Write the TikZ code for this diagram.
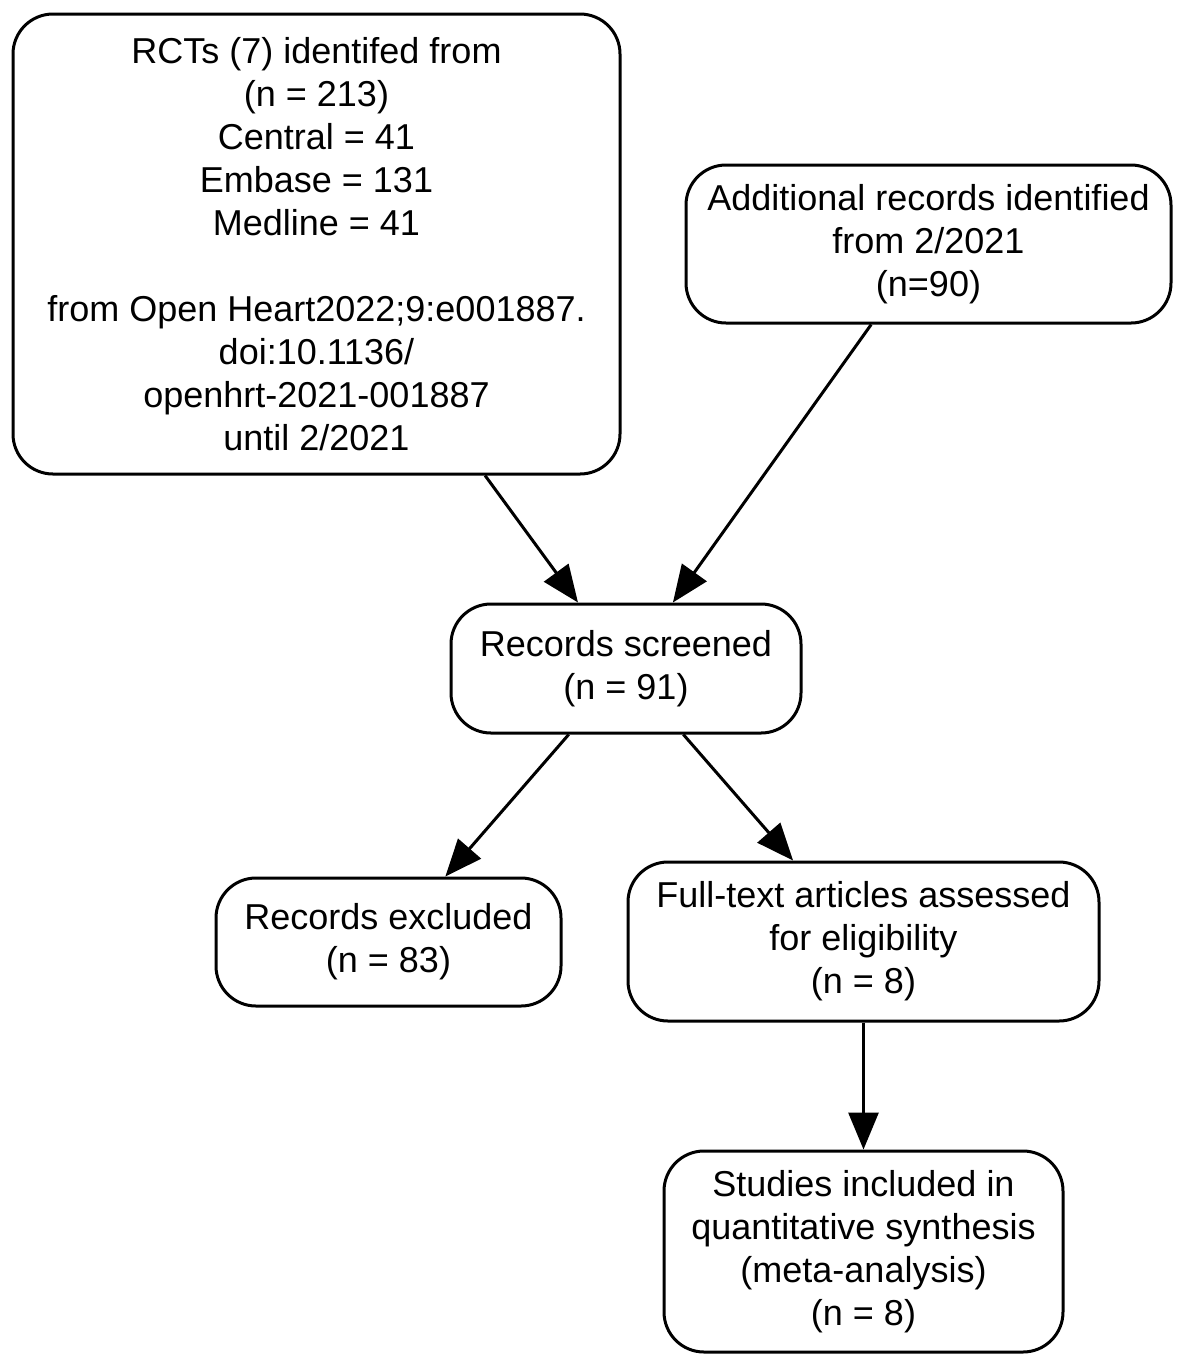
\documentclass[tikz,border=0pt]{standalone}
\usepackage{fontspec}
\setmainfont{Liberation Sans}
\usepackage{tikz}
\usetikzlibrary{arrows.meta}

\begin{document}
\begin{tikzpicture}[x=0.5pt,y=-0.5pt,box/.style={draw=black,line width=1.5pt,rounded corners=20pt,fill=white,align=center,inner sep=0pt,font=\fontsize{18}{21.5}\selectfont},arr/.style={-{Triangle[length=18.5pt,width=15pt]},line width=1.5pt,draw=black}]
\useasboundingbox (0,0) rectangle (1200,1367);
\node[box,minimum width=303.5pt,minimum height=230pt] (rct) at (316.5,244) {RCTs (7) identifed from\\(n = 213)\\Central = 41\\Embase = 131\\Medline = 41\\[21.5pt]from Open Heart2022;9:e001887.\\doi:10.1136/\\openhrt-2021-001887\\until 2/2021};
\node[box,minimum width=242.5pt,minimum height=79pt] (add) at (928.5,244) {Additional records identified\\from 2/2021\\(n=90)};
\node[box,minimum width=175pt,minimum height=64.5pt] (scr) at (626,668.5) {Records screened\\(n = 91)};
\node[box,minimum width=172.5pt,minimum height=64pt] (exc) at (388.5,942) {Records excluded\\(n = 83)};
\node[box,minimum width=235.5pt,minimum height=79.5pt] (full) at (863.5,941.5) {Full-text articles assessed\\for eligibility\\(n = 8)};
\node[box,minimum width=199.5pt,minimum height=100.5pt] (incl) at (863.5,1251.5) {Studies included in\\quantitative synthesis\\(meta-analysis)\\(n = 8)};
\draw[arr] (rct)--(scr);\draw[arr] (add)--(scr);
\draw[arr] (scr)--(exc);\draw[arr] (scr)--(full);
\draw[arr] (full)--(incl);
\end{tikzpicture}
\end{document}
